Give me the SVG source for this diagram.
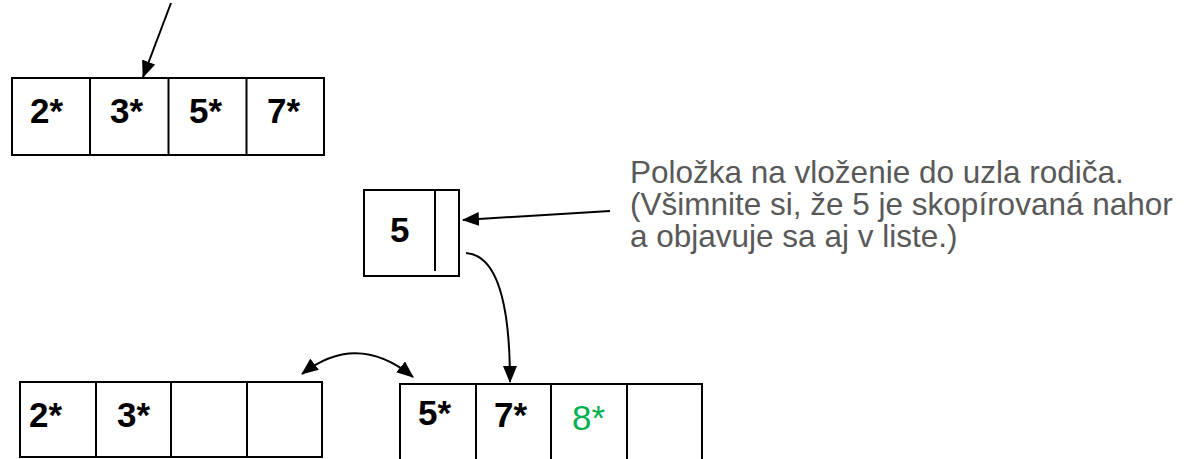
<svg xmlns="http://www.w3.org/2000/svg" width="1195" height="459" viewBox="0 0 1195 459">
  <style>
    .cell { fill: #ffffff; stroke: #000000; stroke-width: 2; }
    .div { stroke: #000000; stroke-width: 2; fill: none; }
    .key { font-family: "Liberation Sans", Arial, sans-serif; font-weight: bold; font-size: 35px; fill: #000000; }
    .new { font-family: "Liberation Sans", Arial, sans-serif; font-size: 35px; fill: #00B050; }
    .note { font-family: "Liberation Sans", Arial, sans-serif; font-size: 31.5px; fill: #595959; }
    .conn { stroke: #000000; stroke-width: 2; fill: none; }
  </style>
  <defs>
    <marker id="arrow" viewBox="0 0 17 14" refX="16" refY="7" markerWidth="17" markerHeight="14" markerUnits="userSpaceOnUse" orient="auto-start-reverse">
      <path d="M0,0 L17,7 L0,14 z" fill="#000000"/>
    </marker>
  </defs>

  <!-- upper node: 2*, 3*, 5*, 7* -->
  <g id="node-top">
    <rect class="cell" x="12" y="78" width="312" height="77"/>
    <line class="div" x1="90" y1="78" x2="90" y2="155"/>
    <line class="div" x1="168.5" y1="78" x2="168.5" y2="155"/>
    <line class="div" x1="246.5" y1="78" x2="246.5" y2="155"/>
    <text class="key" x="30" y="123">2*</text>
    <text class="key" x="110" y="123">3*</text>
    <text class="key" x="189" y="123">5*</text>
    <text class="key" x="267" y="123">7*</text>
  </g>

  <!-- entry pushed up to the parent -->
  <g id="node-entry">
    <rect class="cell" x="364" y="190" width="95" height="86"/>
    <line class="div" x1="435" y1="190" x2="435" y2="271"/>
    <text class="key" x="390" y="242">5</text>
  </g>

  <!-- left leaf after split -->
  <g id="leaf-left">
    <rect class="cell" x="20" y="382" width="302" height="75"/>
    <line class="div" x1="96" y1="382" x2="96" y2="457"/>
    <line class="div" x1="171" y1="382" x2="171" y2="457"/>
    <line class="div" x1="247" y1="382" x2="247" y2="457"/>
    <text class="key" x="29" y="427">2*</text>
    <text class="key" x="117" y="427">3*</text>
  </g>

  <!-- right leaf after split -->
  <g id="leaf-right">
    <rect class="cell" x="400" y="384" width="302" height="90"/>
    <line class="div" x1="476" y1="384" x2="476" y2="474"/>
    <line class="div" x1="551" y1="384" x2="551" y2="474"/>
    <line class="div" x1="627" y1="384" x2="627" y2="474"/>
    <text class="key" x="418" y="425">5*</text>
    <text class="key" x="494" y="427">7*</text>
    <text class="new" x="572" y="430">8*</text>
  </g>

  <!-- explanatory note -->
  <g id="note">
    <text class="note"><tspan x="630" y="183">Položka na vloženie do uzla rodiča.</tspan><tspan x="630" y="215">(Všimnite si, že 5 je skopírovaná nahor</tspan><tspan x="630" y="247">a objavuje sa aj v liste.)</tspan></text>
  </g>

  <!-- connectors -->
  <g id="connectors">
    <line class="conn" x1="171" y1="3" x2="143" y2="77" marker-end="url(#arrow)"/>
    <line class="conn" x1="610" y1="211" x2="463" y2="220" marker-end="url(#arrow)"/>
    <path class="conn" d="M466,253 C496,255 510,300 510,382" marker-end="url(#arrow)"/>
    <path class="conn" d="M302,374 Q357,331 413,377" marker-start="url(#arrow)" marker-end="url(#arrow)"/>
  </g>
</svg>
